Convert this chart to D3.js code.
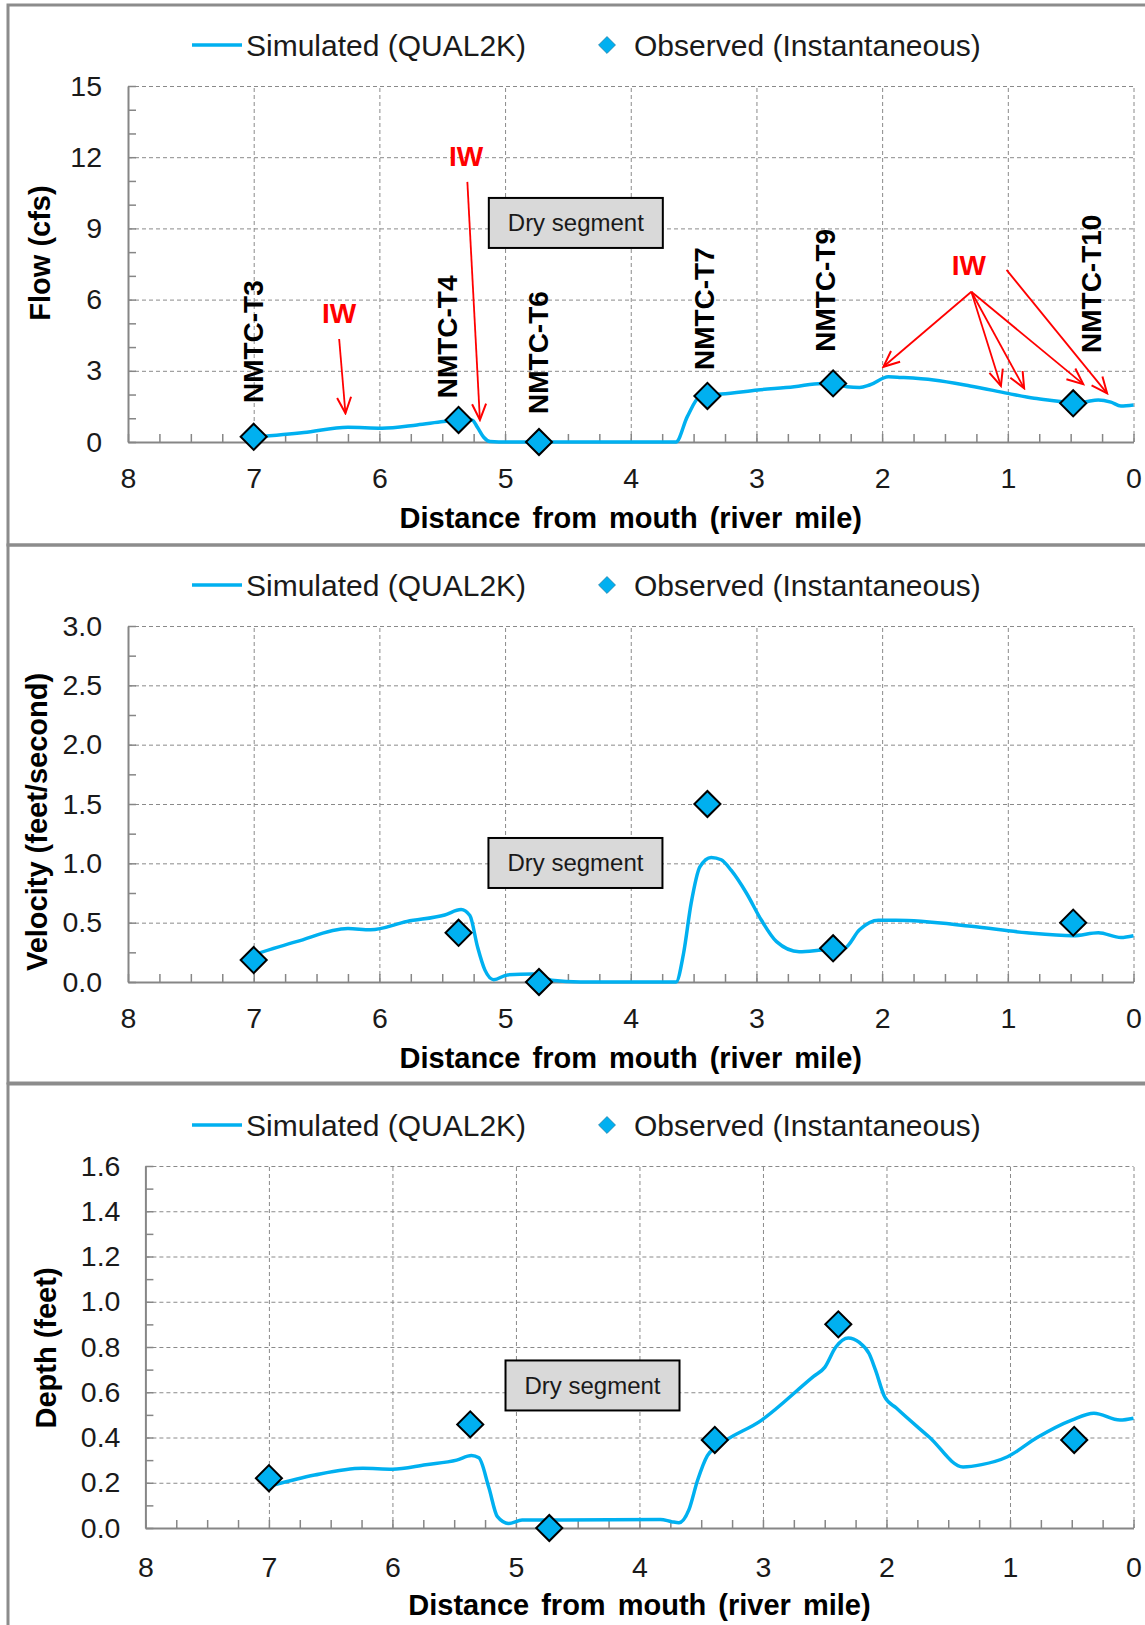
<!DOCTYPE html>
<html><head><meta charset="utf-8">
<script src="https://cdn.jsdelivr.net/npm/d3@7"></script>
<style>
body{margin:0;background:#fff}
svg{display:block}
text{font-family:"Liberation Sans",Arial,Helvetica,sans-serif}
</style>
</head><body>
<svg id="chart" width="1145" height="1625"></svg>
<script>
// ---------- DATA ----------
const xTicks = [8,7,6,5,4,3,2,1,0];
const flowTicks = [0,3,6,9,12,15];
const velTicks = [0,0.5,1.0,1.5,2.0,2.5,3.0];
const depthTicks = [0,0.2,0.4,0.6,0.8,1.0,1.2,1.4,1.6];

const obsMiles = [7.0,5.37,4.73,3.39,2.39,0.48];
const flowObs  = [0.22,0.93,0.0,1.94,2.47,1.63];
const velObs   = [0.185,0.415,0.0,1.5,0.284,0.5];
const depthObs = [0.22,0.458,0.0,0.389,0.90,0.389];

const flowSimMiles = [7.0,6.6,6.25,5.98,5.7,5.49,5.32,5.26,5.22,5.17,5.12,5.05,4.5,4.0,3.64,3.55,3.45,3.35,3.28,2.99,2.7,2.48,2.35,2.28,2.18,2.1,1.95,1.85,1.59,1.30,1.0,0.79,0.6,0.48,0.38,0.28,0.18,0.10,0.0];
const flowSim      = [0.2,0.4,0.62,0.58,0.72,0.86,0.95,0.92,0.62,0.2,0.02,0.0,0.0,0.0,0.0,1.07,1.91,2.0,2.02,2.19,2.33,2.47,2.4,2.33,2.3,2.4,2.75,2.72,2.61,2.36,2.05,1.84,1.72,1.63,1.7,1.77,1.68,1.52,1.56];

const velSimMiles = [7.0,6.66,6.25,6.07,5.78,5.48,5.35,5.28,5.22,5.16,5.09,4.98,4.78,4.63,4.4,3.82,3.64,3.58,3.52,3.45,3.36,3.28,3.20,3.08,2.96,2.84,2.66,2.48,2.30,2.18,2.03,1.89,1.29,0.85,0.48,0.28,0.10,0.0];
const velSim      = [0.23,0.34,0.45,0.44,0.51,0.565,0.61,0.56,0.30,0.10,0.02,0.06,0.067,0.015,0.0,0.0,0.0,0.24,0.66,0.97,1.05,1.03,0.94,0.75,0.52,0.34,0.255,0.27,0.285,0.44,0.52,0.52,0.47,0.415,0.39,0.415,0.375,0.39];

const depthSimMiles = [6.99,6.63,6.24,6.0,5.73,5.48,5.36,5.30,5.22,5.15,5.06,4.95,4.64,3.83,3.74,3.68,3.60,3.53,3.45,3.37,3.01,2.59,2.50,2.41,2.31,2.22,2.14,2.09,2.015,1.92,1.65,1.38,1.23,1.02,0.78,0.50,0.32,0.11,0.0];
const depthSim      = [0.185,0.234,0.264,0.26,0.28,0.30,0.32,0.31,0.18,0.05,0.02,0.035,0.035,0.038,0.028,0.023,0.08,0.21,0.32,0.36,0.477,0.67,0.71,0.80,0.84,0.82,0.77,0.70,0.58,0.53,0.40,0.27,0.28,0.315,0.40,0.477,0.507,0.477,0.485];

// station labels (flow panel), in data units
const stationNames = ["NMTC-T3","NMTC-T4","NMTC-T6","NMTC-T7","NMTC-T9","NMTC-T10"];
const stationLabelMiles = [7.0,5.455,4.736,3.41,2.45,0.333];
const stationLabelFlow  = [1.64,1.84,1.18,3.03,3.8,3.75];

// IW annotations (flow panel)
const iwMiles = [5.31,6.32,1.31];
const iwFlow  = [11.63,5.01,7.04];
// arrows: [fromMile, fromFlow, toMile, toFlow]
const iwArrows = [
  [5.30,10.96,5.20,0.93],
  [6.32,4.34,6.27,1.21],
  [1.29,6.33,1.99,3.17],
  [1.29,6.33,1.055,2.36],
  [1.29,6.33,0.87,2.26],
  [1.29,6.33,0.40,2.44],
  [1.01,7.25,0.21,2.05]
];
// "Dry segment" box centres per panel
const dryMiles = [4.437,4.44,4.38];
const dryVals  = [9.23,1.003,0.63];

// ---------- DRAW ----------
const svg = d3.select("#chart");
const BLUE = "#00b0f0", GRID = "#8a8a8a", AXIS = "#868686", TXT = "#1a1a1a";

svg.append("defs").append("marker")
  .attr("id","arr").attr("markerUnits","userSpaceOnUse")
  .attr("viewBox","-18 -10 20 20").attr("refX",0).attr("refY",0)
  .attr("markerWidth",20).attr("markerHeight",20).attr("orient","auto")
  .append("path").attr("d","M-16,-7 L0,0 L-16,7")
  .attr("fill","none").attr("stroke","#ff0000").attr("stroke-width",2);

// panel frames
[[8,5,1150,540],[8,545,1150,538],[8,1084,1150,600]].forEach(r=>{
  svg.append("rect").attr("x",r[0]).attr("y",r[1]).attr("width",r[2]).attr("height",r[3])
    .attr("fill","none").attr("stroke","#8c8c8c").attr("stroke-width",3);
});

function range(a,b,s){const o=[];for(let v=a;v<=b+1e-9;v+=s)o.push(+v.toFixed(4));return o;}

function panel(cfg){
  const g = svg.append("g");
  const x = d3.scaleLinear().domain([8,0]).range([cfg.left,cfg.right]);
  const y = d3.scaleLinear().domain([0,cfg.ymax]).range([cfg.bottom,cfg.top]);
  const W = cfg.right-cfg.left, H = cfg.bottom-cfg.top;

  // horizontal grid
  g.append("g").attr("transform",`translate(${cfg.left},0)`)
    .call(d3.axisLeft(y).tickValues(cfg.ticks.filter(t=>t>0)).tickSize(-W).tickFormat(""))
    .call(a=>{a.select(".domain").remove();
      a.selectAll("line").attr("stroke",GRID).attr("stroke-dasharray","4,3").attr("stroke-width",1);});
  // vertical grid
  g.append("g").attr("transform",`translate(0,${cfg.bottom})`)
    .call(d3.axisBottom(x).tickValues(xTicks.filter(t=>t<8)).tickSize(-H).tickFormat(""))
    .call(a=>{a.select(".domain").remove();
      a.selectAll("line").attr("stroke",GRID).attr("stroke-dasharray","4,3").attr("stroke-width",1);});
  // minor ticks
  g.append("g").attr("transform",`translate(0,${cfg.bottom})`)
    .call(d3.axisBottom(x).tickValues(range(0,8,0.25)).tickSize(-8).tickFormat(""))
    .call(a=>{a.select(".domain").remove();a.selectAll("line").attr("stroke",AXIS).attr("stroke-width",1.5);});
  g.append("g").attr("transform",`translate(${cfg.left},0)`)
    .call(d3.axisLeft(y).tickValues(range(0,cfg.ymax,cfg.minor)).tickSize(-8).tickFormat(""))
    .call(a=>{a.select(".domain").remove();a.selectAll("line").attr("stroke",AXIS).attr("stroke-width",1.5);});
  // axes with labels
  g.append("g").attr("transform",`translate(0,${cfg.bottom})`)
    .call(d3.axisBottom(x).tickValues(xTicks).tickSize(0).tickPadding(cfg.xPad).tickFormat(d3.format("d")))
    .call(a=>{a.select(".domain").attr("stroke",AXIS).attr("stroke-width",2);
      a.selectAll("text").attr("font-size",28.5).attr("fill",TXT).attr("font-family","Liberation Sans, Arial, sans-serif");});
  g.append("g").attr("transform",`translate(${cfg.left},0)`)
    .call(d3.axisLeft(y).tickValues(cfg.ticks).tickSize(0).tickPadding(cfg.yPad).tickFormat(d3.format(cfg.fmt)))
    .call(a=>{a.select(".domain").attr("stroke",AXIS).attr("stroke-width",2);
      a.selectAll("text").attr("font-size",28.5).attr("fill",TXT).attr("font-family","Liberation Sans, Arial, sans-serif");});

  // titles
  g.append("text").attr("x",(cfg.left+cfg.right)/2).attr("y",cfg.xTitleY)
    .attr("text-anchor","middle").attr("font-size",29).attr("font-weight","bold").attr("fill","#000")
    .attr("word-spacing","4px")
    .text("Distance from mouth (river mile)");
  g.append("text").attr("transform",`translate(${cfg.yTitleX},${cfg.yTitleY}) rotate(-90)`)
    .attr("text-anchor","middle").attr("dominant-baseline","central")
    .attr("font-size",29).attr("font-weight","bold").attr("fill","#000").text(cfg.yTitle);

  // legend
  const ly = cfg.legendY;
  g.append("line").attr("x1",192).attr("x2",242).attr("y1",ly).attr("y2",ly)
    .attr("stroke",BLUE).attr("stroke-width",3.5);
  g.append("text").attr("x",246).attr("y",ly).attr("dominant-baseline","central")
    .attr("font-size",30).attr("fill",TXT).text("Simulated (QUAL2K)");
  g.append("path").attr("d",d3.symbol(d3.symbolSquare,144)())
    .attr("transform",`translate(607,${ly}) rotate(45)`).attr("fill",BLUE)
    .attr("stroke","#1a6f95").attr("stroke-width",0.6);
  g.append("text").attr("x",634).attr("y",ly).attr("dominant-baseline","central")
    .attr("font-size",30).attr("fill",TXT).text("Observed (Instantaneous)");

  // dry segment box
  const bx = x(cfg.dryMile), by = y(cfg.dryVal);
  g.append("rect").attr("x",bx-87).attr("y",by-25).attr("width",174).attr("height",50)
    .attr("fill","#d9d9d9").attr("stroke","#000").attr("stroke-width",2);
  g.append("text").attr("x",bx).attr("y",by).attr("text-anchor","middle").attr("dominant-baseline","central")
    .attr("font-size",24).attr("fill",TXT).text("Dry segment");

  // simulated line
  const pts = cfg.simMiles.map((m,i)=>[m,cfg.sim[i]]);
  g.append("path").datum(pts)
    .attr("d",d3.line().x(d=>x(d[0])).y(d=>y(d[1])).curve(d3.curveMonotoneX))
    .attr("fill","none").attr("stroke",BLUE).attr("stroke-width",3.5).attr("stroke-linejoin","round");

  cfg.g = g; cfg.x = x; cfg.y = y;
  return cfg;
}

function drawObs(cfg){
  cfg.g.selectAll("path.obs").data(obsMiles.map((m,i)=>[m,cfg.obs[i]])).join("path")
    .attr("class","obs")
    .attr("d",d3.symbol(d3.symbolSquare,340)())
    .attr("transform",d=>`translate(${cfg.x(d[0])},${cfg.y(d[1])}) rotate(45)`)
    .attr("fill",BLUE).attr("stroke","#000").attr("stroke-width",2);
}

const p1 = panel({left:128,right:1133.5,top:86,bottom:442,ymax:15,ticks:flowTicks,fmt:"d",minor:1,
  xPad:26,yPad:26,xTitleY:528,yTitle:"Flow (cfs)",yTitleX:40,yTitleY:253,legendY:45,
  dryMile:dryMiles[0],dryVal:dryVals[0],simMiles:flowSimMiles,sim:flowSim,obs:flowObs});
const p2 = panel({left:128,right:1133.5,top:626,bottom:982,ymax:3,ticks:velTicks,fmt:".1f",minor:0.25,
  xPad:26,yPad:26,xTitleY:1068,yTitle:"Velocity (feet/second)",yTitleX:37,yTitleY:822,legendY:585,
  dryMile:dryMiles[1],dryVal:dryVals[1],simMiles:velSimMiles,sim:velSim,obs:velObs});
const p3 = panel({left:145.4,right:1133.5,top:1166,bottom:1528,ymax:1.6,ticks:depthTicks,fmt:".1f",minor:0.1,
  xPad:29,yPad:25,xTitleY:1615,yTitle:"Depth (feet)",yTitleX:46,yTitleY:1348,legendY:1125,
  dryMile:dryMiles[2],dryVal:dryVals[2],simMiles:depthSimMiles,sim:depthSim,obs:depthObs});

// flow panel annotations
const ax = p1.x, ay = p1.y;
p1.g.selectAll("line.iw").data(iwArrows).join("line").attr("class","iw")
  .attr("x1",d=>ax(d[0])).attr("y1",d=>ay(d[1])).attr("x2",d=>ax(d[2])).attr("y2",d=>ay(d[3]))
  .attr("stroke","#ff0000").attr("stroke-width",1.8).attr("marker-end","url(#arr)");
p1.g.selectAll("text.iwl").data(iwMiles).join("text").attr("class","iwl")
  .attr("x",d=>ax(d)).attr("y",(d,i)=>ay(iwFlow[i]))
  .attr("text-anchor","middle").attr("font-size",28).attr("font-weight","bold").attr("fill","#ff0000").text("IW");
p1.g.selectAll("text.st").data(stationNames).join("text").attr("class","st")
  .attr("transform",(d,i)=>`translate(${ax(stationLabelMiles[i])},${ay(stationLabelFlow[i])}) rotate(-90)`)
  .attr("dominant-baseline","central").attr("font-size",28).attr("font-weight","bold").attr("fill","#000").text(d=>d);

[p1,p2,p3].forEach(drawObs);
</script>
</body></html>
